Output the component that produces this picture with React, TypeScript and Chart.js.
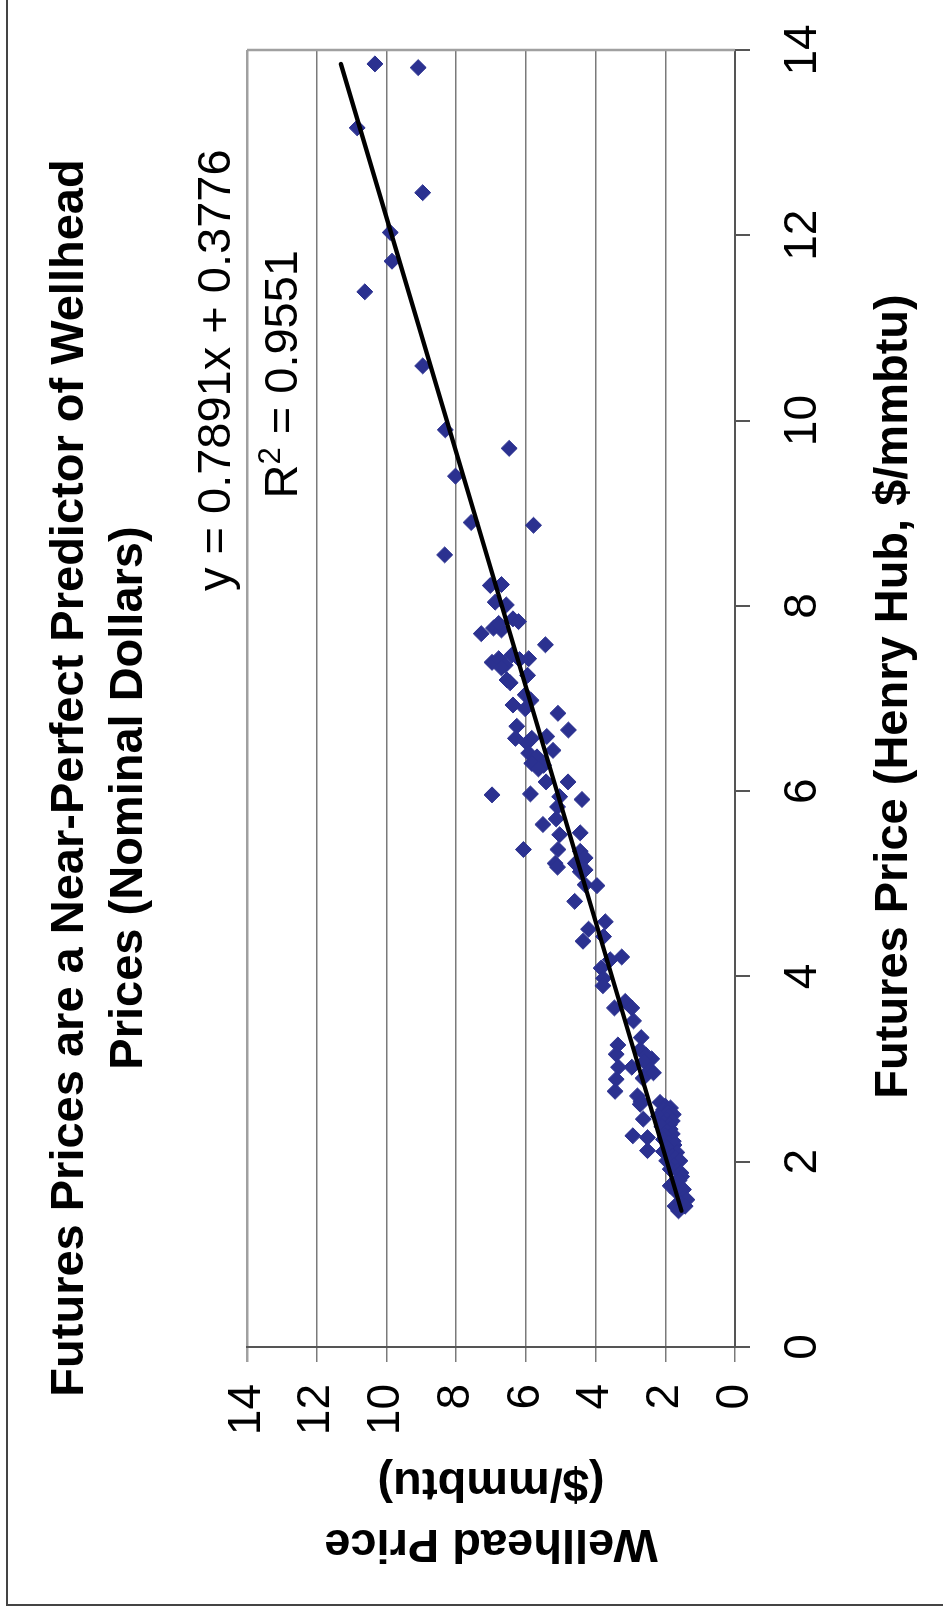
import React, { useEffect, useRef } from 'react';
import { Chart, registerables } from 'chart.js';

Chart.register(...registerables);

// Futures price (Henry Hub, $/mmbtu) — x values
const futures: number[] = [
  13.85, 13.81, 13.16, 12.46, 12.03, 11.72, 11.39, 10.59, 9.9, 9.7, 9.4, 8.9, 8.87, 8.55,
  8.22, 8.23, 8.04, 8.01, 7.86, 7.83, 7.76, 7.74, 7.7, 7.81, 7.58, 7.47, 7.43, 7.39, 7.43, 7.36,
  7.33, 7.42, 7.25, 7.2, 7.17, 7.04, 6.98, 6.93, 6.89, 6.84, 6.66, 6.7, 6.57, 6.57, 6.52, 6.59,
  6.44, 6.41, 6.37, 6.3, 6.28,
  6.24, 6.1, 6.1, 5.96, 5.97, 5.94, 5.91, 5.83, 5.7, 5.64, 5.53, 5.55, 5.37, 5.37, 5.35, 5.28,
  5.22, 5.18, 5.22, 5.13, 5.15, 4.99, 4.98, 4.81, 4.59, 4.51, 4.43, 4.38, 4.21, 4.18, 4.09, 3.98,
  3.9, 3.66, 3.73, 3.66, 3.52, 3.34, 3.26, 3.16, 3.21, 3.11, 3.15, 3.08, 3.02, 3.02, 2.99, 2.96,
  2.9, 2.89, 2.76, 2.71, 2.65, 2.62, 2.64, 2.6, 2.56, 2.56, 2.58, 2.53, 2.51, 2.49, 2.49, 2.46,
  2.45, 2.44, 2.42, 2.4, 2.38, 2.35, 2.33, 2.3, 2.28, 2.28, 2.26, 2.24, 2.22, 2.2, 2.18, 2.15,
  2.12, 2.11, 2.1, 2.06, 2.04, 2.01, 2.01, 1.96, 1.92, 1.9, 1.88, 1.84, 1.8, 1.77, 1.74, 1.7,
  1.67, 1.64, 1.6, 1.59, 1.55, 1.52, 1.52, 1.47,
];

// Wellhead price ($/mmbtu) — y values
const wellhead: number[] = [
  10.33, 9.09, 10.84, 8.96, 9.89, 9.84, 10.62, 8.96, 8.31, 6.48, 8.02, 7.57, 5.78, 8.33,
  7.02, 6.7, 6.88, 6.56, 6.37, 6.21, 6.93, 6.7, 7.28, 6.78, 5.44, 6.4, 5.92, 6.97, 6.78, 6.59,
  6.7, 6.18, 5.95, 6.54, 6.45, 6.02, 5.85, 6.37, 6.02, 5.08, 4.78, 6.26, 6.3, 5.83, 5.97, 5.4,
  5.22, 5.92, 5.68, 5.83, 5.49,
  5.64, 5.42, 4.79, 6.97, 5.87, 5.03, 4.39, 5.09, 5.13, 5.51, 5.03, 4.44, 6.07, 5.08, 4.44, 4.3,
  5.16, 5.09, 4.58, 4.44, 4.3, 4.3, 3.96, 4.6, 3.72, 4.2, 3.77, 4.36, 3.25, 3.58, 3.84, 3.77,
  3.79, 3.46, 3.15, 2.96, 2.91, 2.69, 3.36, 3.41, 2.72, 2.39, 2.55, 2.6, 3.34, 2.96, 2.44, 2.34,
  2.64, 3.41, 3.44, 2.8, 2.7, 2.72, 2.15, 2.0, 1.96, 2.05, 1.85, 1.92, 1.77, 1.9, 2.2, 2.63,
  1.95, 1.8, 2.05, 1.88, 2.1, 1.86, 1.95, 1.8, 2.93, 2.0, 2.51, 2.05, 1.77, 1.9, 1.75, 1.95,
  2.51, 2.05, 1.67, 1.8, 1.7, 1.96, 1.58, 1.75, 1.86, 1.65, 1.55, 1.53, 1.6, 1.72, 1.86, 1.48,
  1.67, 1.55, 1.5, 1.38, 1.55, 1.43, 1.72, 1.62,
];

const axisTicks: number[] = [0, 2, 4, 6, 8, 10, 12, 14];

const SLOPE = 0.7891;
const INTERCEPT = 0.3776;
const R_SQUARED = 0.9551;

const titleLines: string[] = [
  'Futures Prices are a Near-Perfect Predictor of Wellhead',
  'Prices (Nominal Dollars)',
];
const xAxisTitle = 'Futures Price (Henry Hub, $/mmbtu)';
const yAxisTitleLines: string[] = ['Wellhead Price', '($/mmbtu)'];

const W = 1612;
const H = 943;
const FONT = '"Liberation Sans", Arial, Helvetica, sans-serif';
const POINT_COLOR = '#2b3190';

const textPlugin = {
  id: 'customTexts',
  beforeDatasetsDraw(chart: any) {
    const { ctx, chartArea } = chart;
    ctx.save();
    ctx.strokeStyle = '#a0a0a0';
    ctx.lineWidth = 2.5;
    ctx.beginPath();
    ctx.moveTo(chartArea.right, chartArea.top);
    ctx.lineTo(chartArea.right, chartArea.bottom);
    ctx.stroke();
    ctx.restore();
  },
  afterDraw(chart: any) {
    const { ctx, chartArea } = chart;
    ctx.save();
    // outer frame
    ctx.strokeStyle = '#444';
    ctx.lineWidth = 2;
    ctx.beginPath();
    ctx.moveTo(7, H + 5);
    ctx.lineTo(7, 7);
    ctx.lineTo(W + 5, 7);
    ctx.stroke();

    ctx.fillStyle = '#000';
    ctx.textBaseline = 'alphabetic';

    // chart title
    ctx.font = `bold 47px ${FONT}`;
    ctx.textAlign = 'center';
    ctx.fillText(titleLines[0], W / 2 + 28, 83);
    ctx.fillText(titleLines[1], W / 2 + 8, 142);

    // x axis title
    const cx = (chartArea.left + chartArea.right) / 2;
    ctx.fillText(xAxisTitle, cx + 2, 907);

    // y axis title (rotated)
    const cy = (chartArea.top + chartArea.bottom) / 2;
    ctx.save();
    ctx.translate(82, cy);
    ctx.rotate(-Math.PI / 2);
    ctx.fillText(yAxisTitleLines[0], 0, 0);
    ctx.restore();
    ctx.save();
    ctx.translate(143, cy);
    ctx.rotate(-Math.PI / 2);
    ctx.fillText(yAxisTitleLines[1], 0, 0);
    ctx.restore();

    // trendline equation
    const ex = chartArea.left + chartArea.width * 0.75 + 4;
    ctx.font = `47px ${FONT}`;
    ctx.textAlign = 'center';
    ctx.fillText(`y = ${SLOPE}x + ${INTERCEPT}`, ex, 230);

    const partR = 'R';
    const partSup = '2';
    const partRest = ` = ${R_SQUARED}`;
    ctx.font = `47px ${FONT}`;
    const wR = ctx.measureText(partR).width;
    const wRest = ctx.measureText(partRest).width;
    ctx.font = `31px ${FONT}`;
    const wSup = ctx.measureText(partSup).width;
    const total = wR + wSup + wRest;
    let sx = ex - 4 - total / 2;
    ctx.textAlign = 'left';
    ctx.font = `47px ${FONT}`;
    ctx.fillText(partR, sx, 297);
    sx += wR;
    ctx.font = `31px ${FONT}`;
    ctx.fillText(partSup, sx, 280);
    sx += wSup;
    ctx.font = `47px ${FONT}`;
    ctx.fillText(partRest, sx, 297);
    ctx.restore();
  },
};

export default function App() {
  const canvasRef = useRef<HTMLCanvasElement | null>(null);

  useEffect(() => {
    const canvas = canvasRef.current;
    if (!canvas) return;
    document.body.style.overflow = 'hidden';

    const points = futures.map((x, i) => ({ x, y: wellhead[i] }));
    const xMin = Math.min(...futures);
    const xMax = Math.max(...futures);
    const trend = [
      { x: xMin, y: SLOPE * xMin + INTERCEPT },
      { x: xMax, y: SLOPE * xMax + INTERCEPT },
    ];

    const chart = new Chart(canvas, {
      type: 'scatter',
      data: {
        datasets: [
          {
            type: 'line',
            label: 'Trend',
            data: trend,
            borderColor: '#000',
            borderWidth: 4.2,
            borderCapStyle: 'round',
            pointRadius: 0,
            fill: false,
            order: 0,
          } as any,
          {
            label: 'Wellhead vs Futures',
            data: points,
            pointStyle: 'rectRot',
            pointRadius: 8,
            pointBackgroundColor: POINT_COLOR,
            pointBorderColor: POINT_COLOR,
            pointBorderWidth: 1,
            order: 1,
          } as any,
        ],
      },
      options: {
        responsive: false,
        animation: false,
        devicePixelRatio: 1,
        layout: { padding: { left: 0, top: 247, right: 50, bottom: 0 } },
        plugins: {
          legend: { display: false },
          tooltip: { enabled: false },
          title: { display: false },
        },
        scales: {
          x: {
            type: 'linear',
            min: 0,
            max: 14,
            afterBuildTicks: (s: any) => {
              s.ticks = axisTicks.map((v) => ({ value: v }));
            },
            afterFit: (s: any) => {
              s.height = 208;
              s.paddingLeft = 0;
              s.paddingRight = 0;
              s.paddingTop = 0;
              s.paddingBottom = 0;
            },
            grid: {
              drawOnChartArea: false,
              drawTicks: true,
              tickLength: 15,
              color: '#555',
              lineWidth: 2,
            },
            border: { display: true, color: '#555', width: 2 },
            ticks: {
              padding: 30,
              color: '#000',
              maxRotation: 0,
              autoSkip: false,
              font: { family: FONT, size: 46, lineHeight: 1 },
            },
            title: { display: false },
          },
          y: {
            type: 'linear',
            min: 0,
            max: 14,
            afterBuildTicks: (s: any) => {
              s.ticks = axisTicks.map((v) => ({ value: v }));
            },
            afterFit: (s: any) => {
              s.width = 265;
              s.paddingLeft = 0;
              s.paddingRight = 0;
              s.paddingTop = 0;
              s.paddingBottom = 0;
            },
            grid: {
              drawOnChartArea: true,
              drawTicks: true,
              tickLength: 15,
              color: (c: any) => (c.tick && c.tick.value === 14 ? '#a0a0a0' : '#7a7a7a'),
              lineWidth: (c: any) => (c.tick && c.tick.value === 14 ? 2.5 : 1.5),
            },
            border: { display: true, color: '#555', width: 2 },
            ticks: {
              padding: 22,
              color: '#000',
              autoSkip: false,
              font: { family: FONT, size: 46, lineHeight: 1 },
            },
            title: { display: false },
          },
        },
      },
      plugins: [textPlugin],
    });

    return () => {
      chart.destroy();
    };
  }, []);

  return (
    <div
      style={{
        position: 'fixed',
        left: 0,
        top: 0,
        width: W,
        height: H,
        transformOrigin: '0 0',
        transform: `translate(0px, ${W}px) rotate(-90deg)`,
        background: '#fff',
      }}
    >
      <canvas ref={canvasRef} width={W} height={H} style={{ display: 'block', width: W, height: H }} />
    </div>
  );
}
